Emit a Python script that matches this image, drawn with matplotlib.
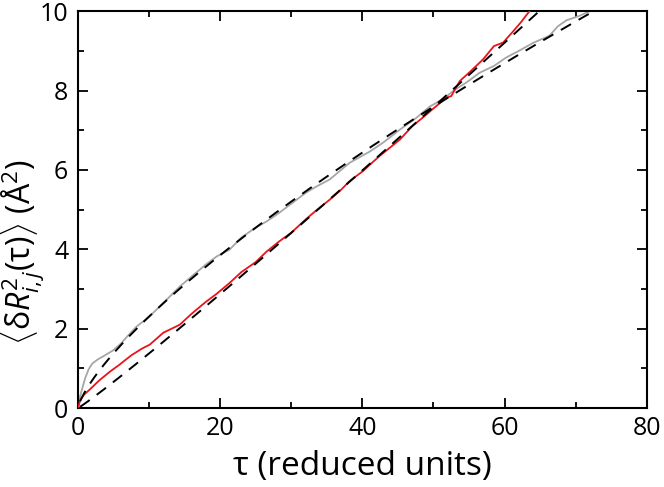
import numpy as np
import matplotlib
matplotlib.use('Agg')
import matplotlib.pyplot as plt
from matplotlib.ticker import MultipleLocator

plt.rcParams['font.family'] = ['Open Sans', 'DejaVu Sans']
plt.rcParams['mathtext.fontset'] = 'custom'
plt.rcParams['mathtext.rm'] = 'Open Sans'
plt.rcParams['mathtext.it'] = 'Open Sans:italic'

# red curve
tau_red = [0, 0.3, 0.8, 1.6, 3.0, 4.5, 5.8, 7.5, 9.0, 10.1, 12.0, 14.3, 16.0,
           18.0, 19.5, 21.3, 23.0, 25.0, 26.5, 28.3, 30.0, 32.0, 33.5, 35.4,
           37.0, 38.2, 40.0, 42.4, 44.0, 45.3, 47.0, 48.5, 50.0, 51.8, 52.5,
           53.7, 55.0, 57.0, 58.5, 59.8, 61.0, 62.3, 63.5]
msd_red = [0, 0.2, 0.33, 0.46, 0.7, 0.92, 1.09, 1.33, 1.5, 1.6, 1.9, 2.1, 2.38,
           2.68, 2.88, 3.15, 3.43, 3.68, 3.94, 4.2, 4.42, 4.75, 4.98, 5.25,
           5.5, 5.72, 5.96, 6.35, 6.58, 6.77, 7.1, 7.32, 7.55, 7.82, 7.86,
           8.24, 8.45, 8.79, 9.12, 9.21, 9.45, 9.72, 10.0]

# gray curve
tau_gray = [0, 0.3, 0.6, 1.0, 1.5, 2.0, 2.8, 3.5, 4.9, 6.0, 7.0, 8.2, 10.0,
            12.4, 14.3, 16.0, 18.0, 19.5, 21.3, 23.0, 25.0, 26.5, 28.3, 30.0,
            32.0, 33.5, 35.4, 38.2, 41.1, 43.0, 45.3, 47.5, 49.5, 51.3, 53.0,
            54.6, 56.5, 58.5, 60.2, 62.0, 64.0, 66.3, 67.5, 68.7, 70.5, 72.0]
msd_gray = [0, 0.3, 0.5, 0.75, 0.98, 1.12, 1.23, 1.3, 1.45, 1.62, 1.82, 2.05, 2.3,
            2.72, 3.06, 3.32, 3.62, 3.82, 3.99, 4.3, 4.55, 4.7, 4.92, 5.15,
            5.42, 5.58, 5.76, 6.18, 6.47, 6.7, 7.02, 7.3, 7.6, 7.78, 8.02,
            8.2, 8.45, 8.62, 8.83, 9.0, 9.2, 9.38, 9.62, 9.77, 9.88, 10.0]

# power-law fits  <dR^2> = a * tau^b
fit_red = (0.120, 1.06)
fit_gray = (0.42, 0.74)

fig = plt.figure(figsize=(6.64, 4.87), dpi=100)
ax = fig.add_axes([0.1175, 0.162, 0.8565, 0.815])

ax.plot(tau_gray, msd_gray, color='#a6a6a6', lw=1.3, zorder=2)
ax.plot(tau_red, msd_red, color='#e8141b', lw=1.3, zorder=3)

t_fit = np.linspace(0.3, 80, 400)
for a, b in (fit_red, fit_gray):
    ax.plot(t_fit, a * t_fit ** b, color='black', lw=1.4, ls=(0, (6, 4.5)), zorder=4)

ax.set_xlim(0, 80)
ax.set_ylim(0, 10)
ax.xaxis.set_major_locator(MultipleLocator(20))
ax.xaxis.set_minor_locator(MultipleLocator(10))
ax.yaxis.set_major_locator(MultipleLocator(2))
ax.yaxis.set_minor_locator(MultipleLocator(1))
ax.tick_params(which='both', direction='in', top=True, right=True, width=1.3,
               labelsize=18)
ax.tick_params(which='major', length=7)
ax.tick_params(which='minor', length=4)
ax.tick_params(axis='x', pad=6)
ax.tick_params(axis='y', pad=7)
for s in ax.spines.values():
    s.set_linewidth(1.5)

ax.set_xlabel('τ (reduced units)', fontsize=24)
ax.set_ylabel(r'$\langle$δ$R^{2}_{i,j}$(τ)$\rangle$ (Å$^{2}$)', fontsize=23)
ax.xaxis.set_label_coords(362 / 664, 1 - 475 / 487, transform=fig.transFigure)
ax.yaxis.set_label_coords(23 / 664, 1 - 252 / 487, transform=fig.transFigure)
ax.xaxis.label.set_va('baseline')
ax.yaxis.label.set_va('center')

fig.savefig('out.png', dpi=100)
